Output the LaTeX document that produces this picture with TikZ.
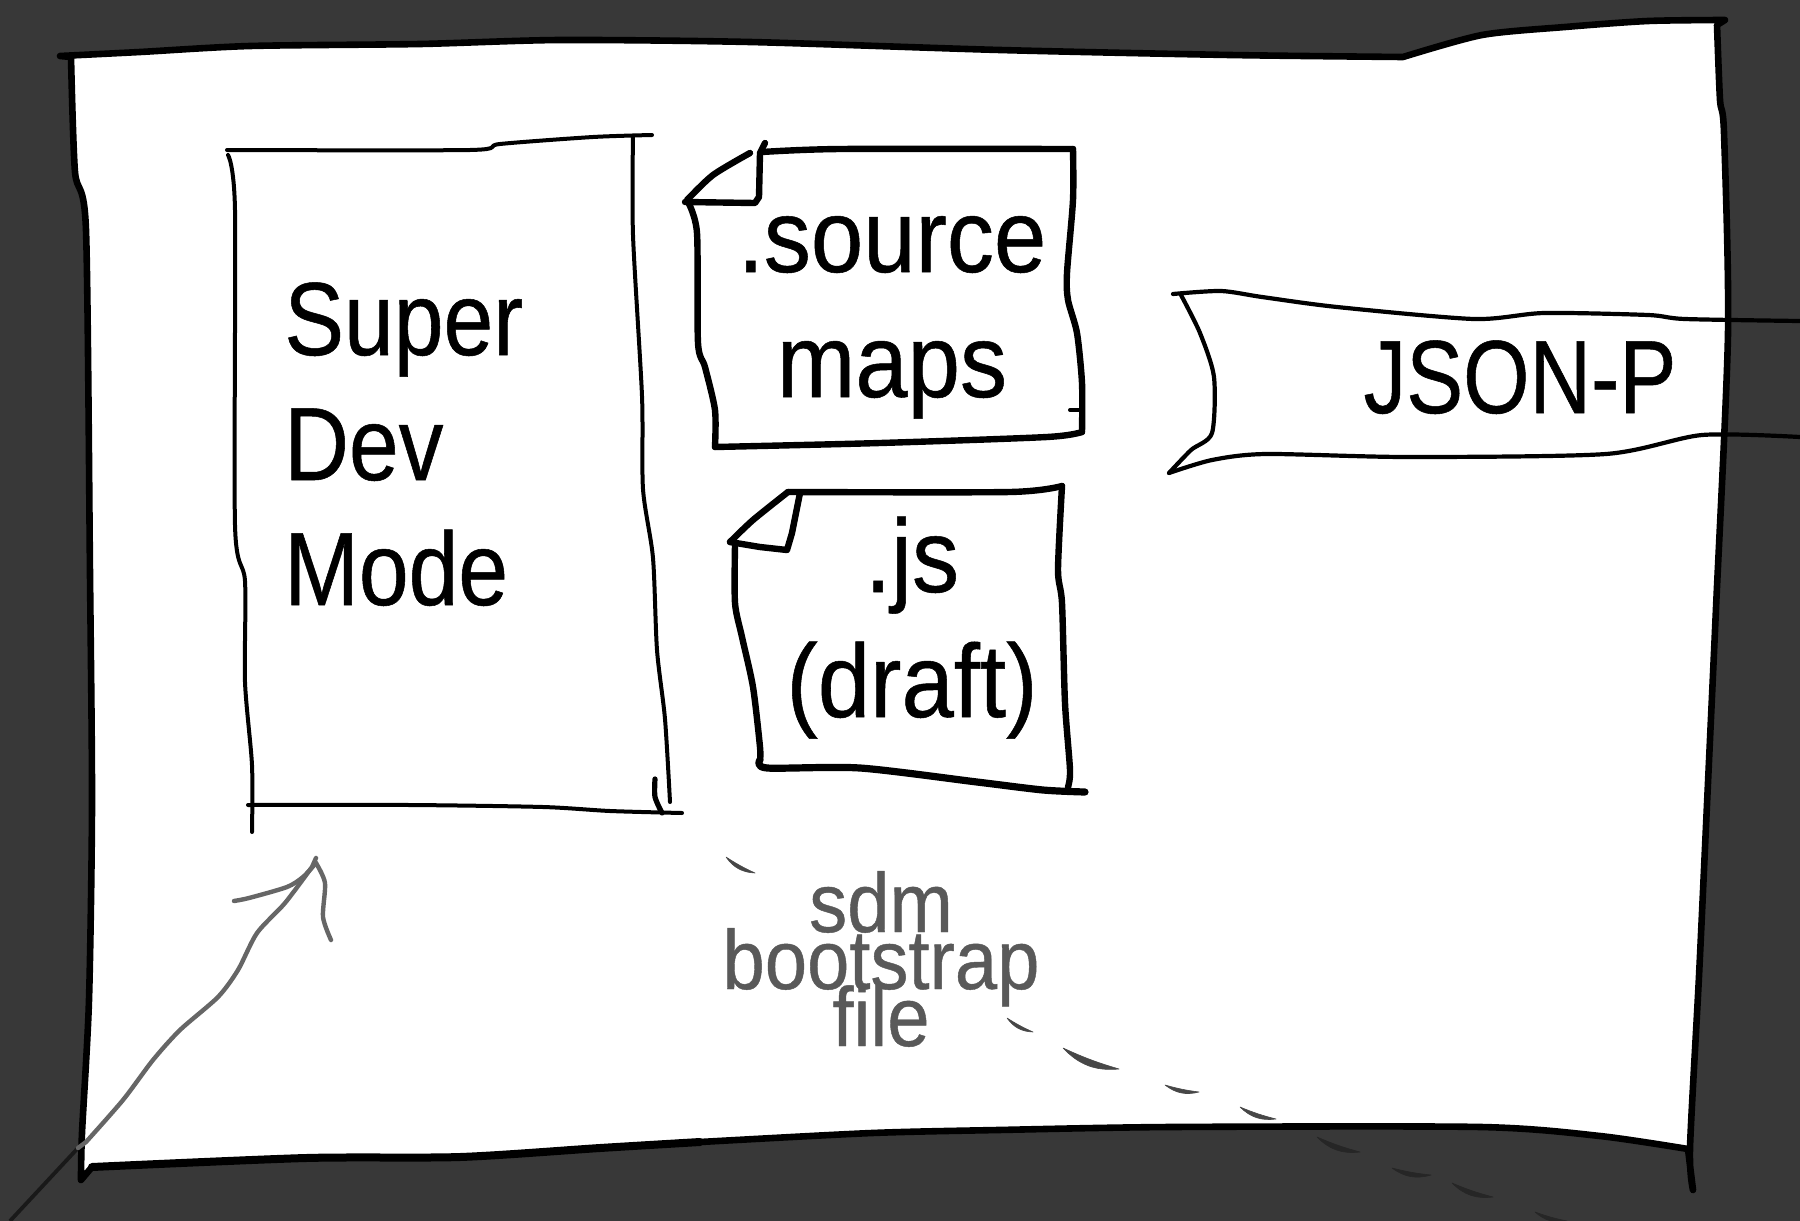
\documentclass[tikz,border=0pt]{standalone}
\usepackage{fontspec}
\usepackage{xcolor}
\newfontfamily\handfont[FakeStretch=.86,FakeBold=.5]{Liberation Sans}
\newfontfamily\handwide[FakeStretch=.905,FakeBold=.5]{Liberation Sans}
\newfontfamily\handslim[FakeStretch=.82,FakeBold=.5]{Liberation Sans}
\newcommand\tightlines{\setlength\lineskiplimit{-50pt}}
\definecolor{slate}{HTML}{383838}
\definecolor{hintgray}{HTML}{595959}
\definecolor{arrowgray}{HTML}{666666}
\tikzset{
  sketch/.style={smooth,tension=.45},
  inkline/.style={draw=black,line cap=round,line join=round},
  pageline/.style={inkline,fill=white,line width=3.3pt},
  boxline/.style={inkline,line width=2pt},
  fileline/.style={inkline,line width=3.2pt},
  flagline/.style={inkline,line width=2.1pt},
  bigtext/.style={inner sep=0pt,font=\fontsize{52}{62.5}\selectfont},
  hinttext/.style={inner sep=0pt,text=hintgray,align=center,font=\tightlines\handwide\fontsize{42}{28.5}\selectfont},
  pointer/.style={draw=arrowgray,line width=2.2pt,line cap=round,line join=round},
  dashmark/.style={line width=.3pt,line join=round}
}
\begin{document}
\begin{tikzpicture}[x=.5pt,y=-.5pt]
\useasboundingbox (0,0) rectangle (1800,1221);
\fill[slate] (-6,-6) rectangle (1806,1227);

% the page
\path[pageline] plot[sketch] coordinates {(60,56) (140,52) (250,46) (420,44) (560,40) (750,42) (1000,50) (1230,55) (1403,57)}
  -- plot[sketch] coordinates {(1403,57) (1482,35) (1565,27) (1648,21) (1725,20)}
  -- plot[sketch] coordinates {(1717,25) (1720,100) (1724,133) (1728,333) (1716,608) (1707,804) (1699,976) (1690,1148) (1693,1190)}
  -- plot[sketch] coordinates {(1688,1149) (1600,1136) (1481,1127) (1171,1127) (998,1130) (872,1133) (700,1142) (600,1148) (460,1157) (306,1158) (92,1167)}
  -- plot[sketch] coordinates {(81,1180) (82,1133) (89,1000) (92,804) (90,574) (86,230) (75,172) (71,57)} -- cycle;
\draw[inkline,line width=4pt] plot[sketch] coordinates {(92,1167) (306,1158) (460,1157) (600,1148) (700,1142)};

% super dev mode box
\draw[boxline] plot[sketch] coordinates {(227,150) (470,150) (500,144) (593,137) (652,135)};
\draw[boxline] plot[sketch] coordinates {(228,155) (235,210) (235,525) (245,581) (245,682) (252,765) (252,832)};
\draw[boxline] plot[sketch] coordinates {(248,805) (410,805) (543,807) (610,811) (682,813)};
\draw[boxline] plot[sketch] coordinates {(633,136) (633,235) (642,396) (643,489) (653,558) (657,650) (665,719) (670,802)};
\draw[boxline,line width=2.6pt] plot[sketch] coordinates {(655,779) (655,797) (662,813)};

% source maps sheet
\draw[fileline] plot[sketch] coordinates {(762,152) (840,149) (1073,149)};
\draw[fileline] plot[sketch] coordinates {(1073,149) (1073,200) (1067,273) (1068,300) (1077,333) (1082,383) (1082,432)};
\draw[fileline] plot[sketch] coordinates {(1082,432) (1047,437) (880,443) (715,447)};
\draw[fileline] plot[sketch] coordinates {(715,447) (715,410) (705,367) (698,343) (697,233) (688,202)};
\draw[fileline] (685,202) -- (755,203) -- (759,197) -- (760,153) -- (765,143);
\draw[fileline] plot[sketch] coordinates {(687,200) (713,175) (750,153)};
\draw[boxline] (1070,410) -- (1080,410);

% js sheet
\draw[fileline] plot[sketch] coordinates {(788,492) (1010,492) (1062,486)};
\draw[fileline] plot[sketch] coordinates {(1062,486) (1058,570) (1062,603) (1065,703) (1070,770) (1068,787)};
\draw[fileline,line width=3.6pt] plot[sketch] coordinates {(1085,792) (1043,790) (977,782) (860,768) (767,768) (760,760)};
\draw[fileline] plot[sketch] coordinates {(760,760) (760,747) (753,687) (742,637) (735,603) (735,545)};
\draw[fileline] (730,542) -- (760,547) -- (787,550) -- (792,533) -- (800,493);
\draw[fileline] plot[sketch] coordinates {(730,542) (753,520) (788,492)};

% json-p flag
\draw[flagline] plot[sketch] coordinates {(1800,321) (1685,319) (1648,315) (1544,313) (1474,319) (1337,307) (1262,297) (1221,291) (1173,294)};
\draw[flagline] plot[sketch] coordinates {(1181,295) (1200,333) (1214,377) (1212,433) (1191,450) (1169,473)};
\draw[flagline] plot[sketch] coordinates {(1169,473) (1212,460) (1266,454) (1407,457) (1606,454) (1702,435) (1800,437)};

% labels
\node[bigtext,anchor=base west,align=left] (superdev) at (284,605) {\handfont Super\\\handfont Dev\\\handfont Mode};
\node[bigtext,anchor=base,align=center] (srcmaps) at (892,397) {\handwide .source\\\handwide maps};
\node[bigtext,anchor=base,align=center] (jsdraft) at (912,717) {\handwide .js\\\handwide (draft)};
\node[bigtext,anchor=base] (jsonp) at (1520,413) {\handslim JSON-P};
\node[hinttext,anchor=base] (sdmfile) at (881,1046) {sdm\\bootstrap\\file};

% arrow up to the box
\coordinate (arrowfoot) at (10,1221);
\coordinate (arrowedge) at (78,1148);
\coordinate (arrowtip) at (316,858);
\draw[draw=black!90,line width=1.9pt] (arrowfoot) -- (arrowedge);
\draw[pointer] (arrowedge) -- plot[sketch] coordinates {(86,1142) (123,1100) (153,1060) (180,1030) (218,997) (238,970) (257,933) (285,903) (312,867)} -- (arrowtip);
\draw[pointer] plot[sketch] coordinates {(234,901) (249,898) (287,887) (303,877) (316,863)};
\draw[pointer] plot[sketch] coordinates {(316,863) (325,883) (323,917) (331,940)};

% dashed track
\foreach \xa/\ya/\xb/\yb in {726/857/755/873,1007/1018/1033/1032,1063/1048/1119/1069,1165/1085/1199/1092,1240/1107/1276/1119}
  \filldraw[dashmark,hintgray!80!black] (\xa,\ya) to[bend right=26] (\xb,\yb) to[bend left=4] cycle;
\foreach \xa/\ya/\xb/\yb in {1317/1137/1360/1152,1392/1168/1431/1175,1452/1183/1493/1197,1535/1212/1567/1221}
  \filldraw[dashmark,black!85] (\xa,\ya) to[bend right=26] (\xb,\yb) to[bend left=4] cycle;
\end{tikzpicture}
\end{document}
